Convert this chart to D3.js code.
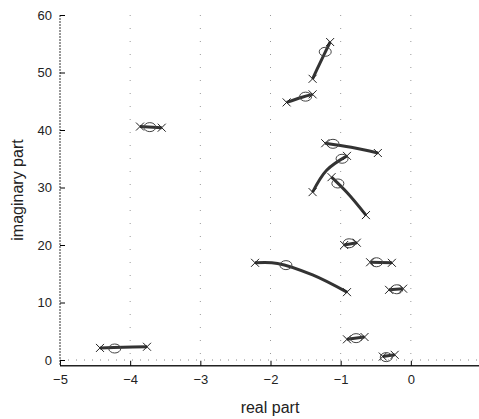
<!DOCTYPE html>
<html>
<head>
<meta charset="utf-8">
<script src="https://cdn.jsdelivr.net/npm/d3@7"></script>
<style>
  body { margin: 0; background: #fff; }
  svg { font-family: "Liberation Sans", Arial, sans-serif; }
</style>
</head>
<body>
<svg id="chart"></svg>
<script>
// eigenvalue trajectories (real, imag), x marks at both ends
var loci = [
    [[-4.43, 2.1], [-4.1, 2.2], [-3.76, 2.3]],
    [[-3.86, 40.6], [-3.55, 40.4]],
    [[-1.40, 48.9], [-1.30, 51.5], [-1.15, 55.3]],
    [[-1.77, 44.8], [-1.55, 45.7], [-1.40, 46.2]],
    [[-1.22, 37.7], [-0.85, 37.0], [-0.47, 36.0]],
    [[-1.40, 29.2], [-1.20, 33.0], [-0.91, 35.5]],
    [[-1.13, 31.8], [-0.90, 29.0], [-0.64, 25.2]],
    [[-0.95, 20.0], [-0.77, 20.4]],
    [[-0.58, 17.0], [-0.27, 16.9]],
    [[-0.31, 12.2], [-0.11, 12.4]],
    [[-2.22, 16.9], [-1.90, 16.8], [-1.40, 14.8], [-0.91, 11.8]],
    [[-0.91, 3.6], [-0.66, 4.0]],
    [[-0.40, 0.6], [-0.23, 0.9]]
];
// nominal eigenvalues (circles)
var nominal = [
    [-4.22, 2.0], [-3.72, 40.5], [-1.22, 53.6], [-1.50, 45.8], [-1.11, 37.6],
    [-0.98, 35.0], [-1.04, 30.7], [-0.88, 20.3], [-0.49, 17.0], [-0.20, 12.3],
    [-1.78, 16.5], [-0.78, 3.8], [-0.35, 0.5]
];
var xTicks = [-5, -4, -3, -2, -1, 0];
var yTicks = [0, 10, 20, 30, 40, 50, 60];

var width = 479, height = 419;
var svg = d3.select("#chart").attr("width", width).attr("height", height);

var x = d3.scaleLinear().domain([-5, 1]).range([60, 481]);
var y = d3.scaleLinear().domain([0, 60]).range([360, 15]);
var yBottom = y(-1);

// dotted grid
svg.append("g").selectAll("line")
    .data(xTicks.slice(1))
    .enter().append("line")
    .attr("x1", d => x(d)).attr("x2", d => x(d))
    .attr("y1", y(60)).attr("y2", yBottom)
    .attr("stroke", "#999").attr("stroke-width", 1)
    .attr("stroke-dasharray", "1,12");
svg.append("line")
    .attr("x1", x(-5)).attr("x2", width)
    .attr("y1", y(0)).attr("y2", y(0))
    .attr("stroke", "#888").attr("stroke-dasharray", "1,7");

// axes
var xAxis = d3.axisBottom(x).tickValues(xTicks).tickSizeInner(-5).tickSizeOuter(0)
    .tickFormat(d => d < 0 ? "\u2212" + Math.abs(d) : d);
var gx = svg.append("g").attr("transform", "translate(0," + yBottom + ")").call(xAxis);
gx.select(".domain").attr("d", "M" + x(-5) + ",0H" + width).attr("stroke", "#222").attr("stroke-width", 1.5);
gx.selectAll("text").attr("font-size", 13).attr("dy", "1.2em").attr("fill", "#222");

var yAxis = d3.axisLeft(y).tickValues(yTicks).tickSizeInner(-5).tickSizeOuter(0);
var gy = svg.append("g").attr("transform", "translate(" + x(-5) + ",0)").call(yAxis);
gy.select(".domain").attr("d", "M0," + y(60) + "V" + yBottom).attr("stroke", "#333").attr("stroke-dasharray", "2,1");
gy.selectAll("text").attr("font-size", 13).attr("x", -8).attr("fill", "#222");

// loci
var line = d3.line().x(d => x(d[0])).y(d => y(d[1])).curve(d3.curveCatmullRom);
svg.append("g").selectAll("path")
    .data(loci)
    .enter().append("path")
    .attr("d", line)
    .attr("fill", "none").attr("stroke", "#333").attr("stroke-width", 3);

// x markers at both ends of each locus
var ends = [];
loci.forEach(function (l) { ends.push(l[0]); ends.push(l[l.length - 1]); });
var s = 4;
svg.append("g").selectAll("path")
    .data(ends)
    .enter().append("path")
    .attr("d", function (d) {
        var cx = x(d[0]), cy = y(d[1]);
        return "M" + (cx - s) + "," + (cy - s) + "L" + (cx + s) + "," + (cy + s) +
            "M" + (cx - s) + "," + (cy + s) + "L" + (cx + s) + "," + (cy - s);
    })
    .attr("stroke", "#222").attr("stroke-width", 1);

// circles
svg.append("g").selectAll("ellipse")
    .data(nominal)
    .enter().append("ellipse")
    .attr("cx", d => x(d[0])).attr("cy", d => y(d[1]))
    .attr("rx", 6).attr("ry", 4.5)
    .attr("fill", "none").attr("stroke", "#444").attr("stroke-width", 1);

// axis labels
svg.append("text")
    .attr("x", 270).attr("y", 413)
    .attr("text-anchor", "middle").attr("font-size", 16).attr("fill", "#222")
    .text("real part");
svg.append("text")
    .attr("transform", "translate(23,190) rotate(-90)")
    .attr("text-anchor", "middle").attr("font-size", 16).attr("fill", "#222")
    .text("imaginary part");
</script>
</body>
</html>
